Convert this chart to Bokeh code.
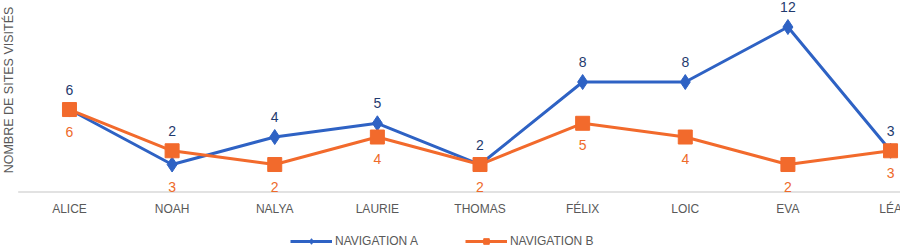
import numpy as np
from bokeh.plotting import figure
from bokeh.models import Range1d, Legend, LegendItem, ColumnDataSource, Label
from bokeh.core.properties import value
from bokeh.embed import file_html
from bokeh.resources import INLINE

categories = ["ALICE", "NOAH", "NALYA", "LAURIE", "THOMAS", "FÉLIX", "LOIC", "EVA", "LÉA"]
nav_a = [6, 2, 4, 5, 2, 8, 8, 12, 3]
nav_b = [6, 3, 2, 4, 2, 5, 4, 2, 3]
series_names = ["NAVIGATION A", "NAVIGATION B"]
y_title = "NOMBRE DE SITES VISITÉS"

BLUE = "#2E62C4"
ORANGE = "#F26A2C"
BLUE_LBL = "#1F3A6E"
ORANGE_LBL = "#EE6A2A"
GRAY = "#595959"
FONT = "Liberation Sans"

x = np.arange(len(categories))
a = np.array(nav_a, dtype=float)
b = np.array(nav_b, dtype=float)

src = ColumnDataSource(dict(
    x=x, a=a, b=b,
    la=[str(v) for v in nav_a], lb=[str(v) for v in nav_b],
    ya=np.maximum(a, b), yb=np.minimum(a, b),
    cat=categories, zero=np.zeros(len(categories)),
))

p = figure(width=900, height=249, output_backend="svg", toolbar_location=None,
           x_range=Range1d(-0.672, 8.097), y_range=Range1d(-4.18, 13.93),
           min_border_left=0, min_border_right=0, min_border_top=0, min_border_bottom=0)
p.outline_line_color = None
p.xgrid.grid_line_color = None
p.ygrid.grid_line_color = None
p.xaxis.visible = False
p.yaxis.visible = False
p.background_fill_color = "white"
p.border_fill_color = "white"

# category axis line and labels
p.segment(x0=[x[0] - 0.5], x1=[x[-1] + 0.5], y0=[0], y1=[0], line_color="#D9D9D9", line_width=1.5)
p.text("x", "zero", text="cat", source=src, text_font=value(FONT), text_font_size="12px",
       text_color=GRAY, text_align="center", text_baseline="middle", y_offset=17)

# y title
p.add_layout(Label(x=8.5, y=159.5, x_units="screen", y_units="screen", text=y_title,
                   angle=np.pi / 2, text_font=FONT, text_font_size="12.5px", text_color=GRAY,
                   text_align="center", text_baseline="middle"))

la = p.line("x", "a", source=src, line_color=BLUE, line_width=3)
ma = p.scatter("x", "a", source=src, marker="diamond", size=15, fill_color=BLUE, line_color=BLUE)
lb = p.line("x", "b", source=src, line_color=ORANGE, line_width=3)
mb = p.scatter("x", "b", source=src, marker="square", size=14, fill_color=ORANGE, line_color=ORANGE)

p.text("x", "ya", text="la", source=src, text_font=value(FONT), text_font_size="14px",
       text_color=BLUE_LBL, text_align="center", text_baseline="middle", y_offset=-20)
p.text("x", "yb", text="lb", source=src, text_font=value(FONT), text_font_size="14px",
       text_color=ORANGE_LBL, text_align="center", text_baseline="middle", y_offset=22)

legend = Legend(items=[LegendItem(label=series_names[0], renderers=[la, ma]),
                       LegendItem(label=series_names[1], renderers=[lb, mb])],
                orientation="horizontal", location=(290, 1),
                label_text_font=FONT, label_text_font_size="12px", label_text_color=GRAY,
                glyph_width=42, glyph_height=14, label_height=14, label_standoff=3, spacing=47,
                padding=0, margin=0, border_line_color=None, background_fill_alpha=0)
p.add_layout(legend, "center")

open("out.html", "w").write(file_html(p, INLINE))
